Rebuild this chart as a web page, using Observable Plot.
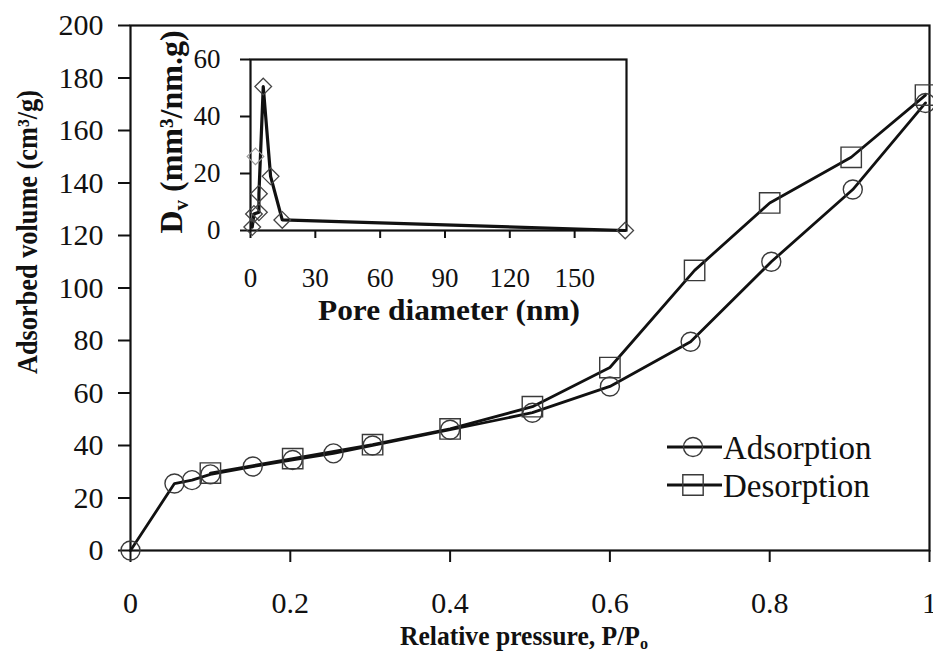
<!DOCTYPE html>
<html><head><meta charset="utf-8">
<script src="https://cdn.jsdelivr.net/npm/d3@7"></script>
<script src="https://cdn.jsdelivr.net/npm/@observablehq/plot@0.6"></script>
<style>
body{margin:0;background:#fff;}
#wrap{position:relative;width:933px;height:652px;font-family:"Liberation Serif","Times New Roman",serif;overflow:hidden;}
#main{position:absolute;left:0;top:0;}
#inset{position:absolute;left:130px;top:20px;}
svg{overflow:visible;}
svg text{font-family:"Liberation Serif","Times New Roman",serif !important;}
</style></head><body>
<div id="wrap"><div id="main"></div><div id="inset"></div></div>
<script>
// ---- Main isotherm data ----
const adsP = [0, 0.055, 0.077, 0.1, 0.153, 0.203, 0.254, 0.303, 0.4, 0.503, 0.6, 0.701, 0.802, 0.904, 0.995];
const adsV = [0, 25.5, 26.8, 29, 32, 34.5, 37, 40, 46, 52.5, 62.5, 79.5, 110, 137.5, 170.5];
const desP = [0.995, 0.902, 0.8, 0.706, 0.6, 0.503, 0.4, 0.303, 0.203, 0.1];
const desV = [173.5, 149.8, 132.4, 106.7, 69.7, 54.8, 46.3, 40.3, 35, 29.5];
const xTicks = [0, 0.2, 0.4, 0.6, 0.8, 1];
const yTicks = [0, 20, 40, 60, 80, 100, 120, 140, 160, 180, 200];

// ---- Inset pore size distribution ----
const poreD = [0.8, 1.6, 3.9, 3.9, 5.9, 9.3, 14.7, 173.4];
const poreDv = [1.2, 5.8, 6.4, 12.9, 50.5, 19, 3.7, 0];
const extraD = [2.3];
const extraDv = [26];
const insetXTicks = [0, 30, 60, 90, 120, 150];
const insetYTicks = [0, 20, 40, 60];

// ---- Legend ----
const legendNames = ["Adsorption", "Desorption"];
const legendSymbols = ["circle", "square"];

const ads = adsP.map((p, i) => ({p, v: adsV[i]}));
const des = desP.map((p, i) => ({p, v: desV[i]}));
const psd = poreD.map((d, i) => ({d, v: poreDv[i]}));
const psdExtra = extraD.map((d, i) => ({d, v: extraDv[i]}));

const FONT = '"Liberation Serif", "Times New Roman", serif';
const fmt = d => String(+(+d).toFixed(1));

const main = Plot.plot({
  width: 933, height: 652,
  marginLeft: 130, marginRight: 4, marginTop: 25, marginBottom: 102,
  style: {fontFamily: FONT, fontSize: "30px", color: "#111", background: "transparent"},
  x: {domain: [0, 1]},
  y: {domain: [0, 200]},
  marks: [
    Plot.axisX({ticks: xTicks, tickFormat: fmt, tickSize: 12, tickPadding: 29, fontSize: 30, fontFamily: FONT, label: null, strokeWidth: 2}),
    Plot.axisY({ticks: yTicks, tickSize: 12, tickPadding: 15, fontSize: 30, fontFamily: FONT, label: null, strokeWidth: 2}),
    Plot.frame({stroke: "#111", strokeWidth: 2.2}),
    Plot.line(ads, {x: "p", y: "v", stroke: "#111", strokeWidth: 2.8}),
    Plot.line(des, {x: "p", y: "v", stroke: "#111", strokeWidth: 2.8}),
    Plot.dot(ads, {x: "p", y: "v", symbol: "circle", r: 9.5, stroke: "#3a3a3a", strokeWidth: 1.4, fill: "none"}),
    Plot.dot(des, {x: "p", y: "v", symbol: "square", r: 11.5, stroke: "#3a3a3a", strokeWidth: 1.4, fill: "none"})
  ]
});
document.getElementById("main").appendChild(main);

// axis titles and legend for main plot
const ms = d3.select(main);
ms.append("text")
  .attr("transform", "translate(37,232) rotate(-90)")
  .attr("text-anchor", "middle")
  .attr("textLength", 284).attr("lengthAdjust", "spacingAndGlyphs")
  .style("font", `bold 29px ${FONT}`).attr("fill", "#111")
  .text("Adsorbed volume (cm³/g)");
const xl = ms.append("text")
  .attr("x", 524).attr("y", 645)
  .attr("text-anchor", "middle")
  .attr("textLength", 248).attr("lengthAdjust", "spacingAndGlyphs")
  .style("font", `bold 27px ${FONT}`).attr("fill", "#111");
xl.append("tspan").text("Relative pressure, P/P");
xl.append("tspan").attr("dy", 4).style("font-size", "17px").text("o");

const lg = ms.append("g");
legendNames.forEach((name, i) => {
  const cy = 447 + i * 38;
  lg.append("line").attr("x1", 667).attr("x2", 722).attr("y1", cy).attr("y2", cy)
    .attr("stroke", "#111").attr("stroke-width", 2.8);
  const sym = legendSymbols[i] === "circle" ? d3.symbolCircle : d3.symbolSquare;
  const r = legendSymbols[i] === "circle" ? 9.5 : 11.5;
  lg.append("path").attr("d", d3.symbol(sym, Math.PI * r * r)())
    .attr("transform", `translate(693,${cy})`)
    .attr("fill", "none").attr("stroke", "#3a3a3a").attr("stroke-width", 1.4);
  lg.append("text").attr("x", 723).attr("y", cy + 12)
    .attr("text-anchor", "start")
    .style("font", `33px ${FONT}`).attr("fill", "#111").text(name);
});

// ---- Inset ----
const inset = Plot.plot({
  width: 506, height: 310,
  marginLeft: 120, marginRight: 10, marginTop: 39, marginBottom: 100,
  style: {fontFamily: FONT, fontSize: "27px", color: "#111", background: "transparent"},
  x: {domain: [0, 174]},
  y: {domain: [0, 60]},
  marks: [
    Plot.axisX({ticks: insetXTicks, tickSize: 8, tickPadding: 29, fontSize: 27, fontFamily: FONT, label: null, strokeWidth: 2}),
    Plot.axisY({ticks: insetYTicks, tickSize: 10, tickPadding: 20, fontSize: 27, fontFamily: FONT, label: null, strokeWidth: 2}),
    Plot.frame({stroke: "#111", strokeWidth: 2.2}),
    Plot.line(psd, {x: "d", y: "v", stroke: "#111", strokeWidth: 3.2}),
    Plot.dot(psd, {x: "d", y: "v", symbol: "diamond2", r: 7.5, stroke: "#444", strokeWidth: 1.3, fill: "none"}),
    Plot.dot(psdExtra, {x: "d", y: "v", symbol: "diamond2", r: 7.5, stroke: "#999", strokeWidth: 1.2, fill: "none"})
  ]
});
document.getElementById("inset").appendChild(inset);
const is = d3.select(inset);
const iyl = is.append("text")
  .attr("transform", "translate(52,112) rotate(-90)")
  .attr("text-anchor", "middle")
  .style("font", `bold 32px ${FONT}`).attr("fill", "#111");
iyl.append("tspan").text("D");
iyl.append("tspan").attr("dy", 6).style("font-size", "21px").text("v");
iyl.append("tspan").attr("dy", -6).text(" (mm³/nm.g)");
is.append("text")
  .attr("x", 319).attr("y", 300)
  .attr("text-anchor", "middle")
  .attr("textLength", 262).attr("lengthAdjust", "spacingAndGlyphs")
  .style("font", `bold 29px ${FONT}`).attr("fill", "#111")
  .text("Pore diameter (nm)");
</script>
</body></html>
